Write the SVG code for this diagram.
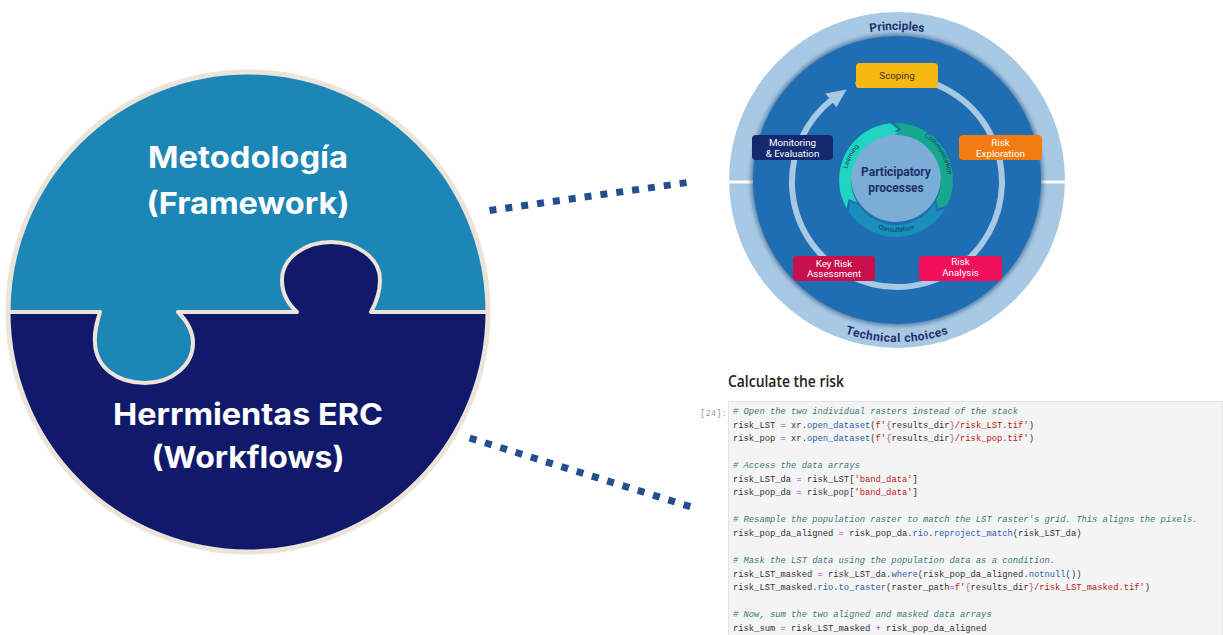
<svg xmlns="http://www.w3.org/2000/svg" width="1223" height="635" viewBox="0 0 1223 635">
  <defs>
    <style>
      .puzzle-title { font-family: Inter, "Open Sans", "Liberation Sans", sans-serif; font-weight: 700; font-size: 30px; fill: #ffffff; text-anchor: middle; }
      .dots { fill: none; stroke: #244f8e; stroke-width: 7; stroke-dasharray: 7 9; }
      .ring-label { font-family: Roboto, "Liberation Sans", sans-serif; font-weight: 700; font-size: 12px; fill: #22306f; }
      .step { font-family: Roboto, "Liberation Sans", sans-serif; font-size: 9.8px; fill: #ffffff; text-anchor: middle; }
      .arc-label { font-family: Roboto, "Liberation Sans", sans-serif; font-size: 6.5px; fill: #0f3a5c; }
      .core { font-family: Roboto, "Liberation Sans", sans-serif; font-weight: 700; font-size: 12px; fill: #1f2f6e; text-anchor: middle; }
      .code { font-family: "Liberation Mono", "DejaVu Sans Mono", monospace; font-size: 8.8px; fill: #333333; }
      .c { fill: #3d7b7b; font-style: italic; }
      .o { fill: #aa22ff; }
      .m { fill: #2a5db0; }
      .s { fill: #ba2121; }
      .b { fill: #a45a77; }
    </style>
    <filter id="soft" x="-10%" y="-10%" width="120%" height="120%">
      <feGaussianBlur stdDeviation="2"/>
    </filter>
    <!-- text guides, all centred on the wheel at (897,180) / core at (896,180) -->
    <path id="arc-principles-top" d="M 767 105 A 150 150 0 0 1 1027 105"/>
    <path id="arc-technical" d="M 782.4 294.6 A 162 162 0 0 0 1011.6 294.6"/>
    <path id="arc-learning" d="M 849.1 197.1 A 50 50 0 0 1 883.1 131.7"/>
    <path id="arc-communication" d="M 912 130.5 A 52 52 0 0 1 947.4 188.1"/>
    <path id="arc-consultation" d="M 860.5 218.3 A 53 53 0 0 0 931.5 218.3"/>
  </defs>

  <rect x="0" y="0" width="1223" height="635" fill="#ffffff"/>

  <!-- Puzzle circle: framework (top) and workflows (bottom) -->
  <g id="puzzle">
    <circle cx="248" cy="312" r="240" fill="#1c87b7"/>
    <path d="M 8 312 L 100 312 C 97 322 94 332 95 343 C 96 368 118 383 145 383 C 172 383 193 365 193 343 C 193 330 186 320 178 312 L 297 312 C 287 303 282 292 282 280 C 282 258 305 242 331 242 C 357 242 380 258 380 280 C 380 292 376 303 371 312 L 488 312 A 240 240 0 0 1 8 312 Z" fill="#111a6a"/>
    <path d="M 8 312 L 100 312 C 97 322 94 332 95 343 C 96 368 118 383 145 383 C 172 383 193 365 193 343 C 193 330 186 320 178 312 L 297 312 C 287 303 282 292 282 280 C 282 258 305 242 331 242 C 357 242 380 258 380 280 C 380 292 376 303 371 312 L 488 312" fill="none" stroke="#ede3d8" stroke-width="4" stroke-linejoin="round"/>
    <circle cx="248" cy="312" r="240" fill="none" stroke="#ede3d8" stroke-width="5"/>
  </g>

  <g id="node-metodologia">
    <text class="puzzle-title" x="248" y="168" textLength="200" lengthAdjust="spacingAndGlyphs">Metodología</text>
    <text class="puzzle-title" x="248" y="214" textLength="203" lengthAdjust="spacingAndGlyphs">(Framework)</text>
  </g>

  <g id="node-herramientas">
    <text class="puzzle-title" x="248" y="425" textLength="270" lengthAdjust="spacingAndGlyphs">Herrmientas ERC</text>
    <text class="puzzle-title" x="248" y="468" textLength="193" lengthAdjust="spacingAndGlyphs">(Workflows)</text>
  </g>

  <!-- Dotted links -->
  <g id="connectors">
    <path class="dots" d="M 489.5 210.5 L 687.5 182.5"/>
    <path class="dots" d="M 469.7 438 L 691.3 507"/>
  </g>

  <!-- Framework wheel -->
  <g id="node-framework-wheel">
    <circle cx="897" cy="180" r="168" fill="#a8c9e3"/>
    <rect x="726" y="180.5" width="28" height="3" fill="#ffffff"/>
    <rect x="1040" y="180.5" width="28" height="3" fill="#ffffff"/>
    <circle cx="897" cy="180" r="146" fill="#0e3a73" opacity="0.55" filter="url(#soft)"/>
    <circle cx="897" cy="180" r="144" fill="#1f6db2"/>

    <text class="ring-label" text-anchor="middle"><textPath href="#arc-principles-top" startOffset="50%">Principles</textPath></text>
    <text class="ring-label" text-anchor="middle" letter-spacing="0.5"><textPath href="#arc-technical" startOffset="50%">Technical  choices</textPath></text>

    <!-- cycle track with arrow -->
    <path d="M 855.98 85.35 A 105 105 0 1 1 832.35 99.26" fill="none" stroke="#a8c9e3" stroke-width="6"/>
    <polygon points="825.4,93.6 846.6,89.6 836.4,107.2" fill="#a8c9e3"/>

    <!-- participatory core -->
    <circle cx="896" cy="177" r="45" fill="#7aaed6"/>
    <path d="M 846.64 208.5 A 57 57 0 0 1 890.04 123.31 L 897.78 129.03 L 891.3 135.25 A 45 45 0 0 0 857.03 202.5 L 848.71 199.1 Z" fill="#20d5c0"/>
    <path d="M 894.01 123.03 A 57 57 0 0 1 947.23 204.99 L 938.28 208.52 L 936.45 199.73 A 45 45 0 0 0 894.43 135.03 L 901.33 129.28 Z" fill="#16a88e"/>
    <path d="M 945.36 208.5 A 57 57 0 0 1 848.75 211.87 L 850.16 202.36 L 858.69 205.16 A 45 45 0 0 0 934.97 202.5 L 936.19 211.4 Z" fill="#1a8fbb"/>
    <text class="arc-label" text-anchor="middle"><textPath href="#arc-learning" startOffset="50%">Learning</textPath></text>
    <text class="arc-label" text-anchor="middle"><textPath href="#arc-communication" startOffset="50%">Communication</textPath></text>
    <text class="arc-label" text-anchor="middle"><textPath href="#arc-consultation" startOffset="50%">Consultation</textPath></text>
    <text class="core" x="896" y="176">Participatory</text>
    <text class="core" x="896" y="192">processes</text>

    <!-- steps -->
    <rect x="856" y="63" width="82" height="25" rx="4" fill="#f6b912"/>
    <text class="step" x="897" y="79" style="fill:#3b3322">Scoping</text>

    <rect x="752" y="135" width="81" height="25" rx="4" fill="#14286e"/>
    <text class="step" x="792.5" y="146">Monitoring</text>
    <text class="step" x="792.5" y="156.5">&amp; Evaluation</text>

    <rect x="959" y="135" width="83" height="25" rx="4" fill="#f27c10"/>
    <text class="step" x="1000.5" y="145.5">Risk</text>
    <text class="step" x="1000.5" y="156.5">Exploration</text>

    <rect x="793" y="256" width="82" height="25" rx="4" fill="#c8104a"/>
    <text class="step" x="834" y="266.5">Key Risk</text>
    <text class="step" x="834" y="277">Assessment</text>

    <rect x="919" y="256" width="83" height="25" rx="4" fill="#f0105a"/>
    <text class="step" x="960.5" y="264.5">Risk</text>
    <text class="step" x="960.5" y="275.5">Analysis</text>
  </g>

  <!-- Notebook cell -->
  <g id="node-notebook">
    <text x="728" y="387" font-family="'Open Sans', 'Liberation Sans', sans-serif" font-weight="600" font-size="16" fill="#222222" textLength="116" lengthAdjust="spacingAndGlyphs">Calculate the risk</text>
    <text x="700" y="416" font-family="'Liberation Mono', monospace" font-size="9" fill="#9e9e9e">[24]:</text>
    <rect x="728.5" y="401.5" width="494" height="240" fill="#f4f4f4" stroke="#e3e3e3" stroke-width="1"/>
    <text class="code" x="733" y="414"><tspan class="c"># Open the two individual rasters instead of the stack</tspan></text>
    <text class="code" x="733" y="427.6">risk_LST <tspan class="o">=</tspan> xr.<tspan class="m">open_dataset</tspan>(<tspan class="s">f'</tspan><tspan class="b">{</tspan>results_dir<tspan class="b">}</tspan><tspan class="s">/risk_LST.tif'</tspan>)</text>
    <text class="code" x="733" y="441.1">risk_pop <tspan class="o">=</tspan> xr.<tspan class="m">open_dataset</tspan>(<tspan class="s">f'</tspan><tspan class="b">{</tspan>results_dir<tspan class="b">}</tspan><tspan class="s">/risk_pop.tif'</tspan>)</text>
    <text class="code" x="733" y="468.2"><tspan class="c"># Access the data arrays</tspan></text>
    <text class="code" x="733" y="481.8">risk_LST_da <tspan class="o">=</tspan> risk_LST[<tspan class="s">'band_data'</tspan>]</text>
    <text class="code" x="733" y="495.3">risk_pop_da <tspan class="o">=</tspan> risk_pop[<tspan class="s">'band_data'</tspan>]</text>
    <text class="code" x="733" y="522.4"><tspan class="c"># Resample the population raster to match the LST raster's grid. This aligns the pixels.</tspan></text>
    <text class="code" x="733" y="536">risk_pop_da_aligned <tspan class="o">=</tspan> risk_pop_da.<tspan class="m">rio</tspan>.<tspan class="m">reproject_match</tspan>(risk_LST_da)</text>
    <text class="code" x="733" y="563.1"><tspan class="c"># Mask the LST data using the population data as a condition.</tspan></text>
    <text class="code" x="733" y="576.6">risk_LST_masked <tspan class="o">=</tspan> risk_LST_da.<tspan class="m">where</tspan>(risk_pop_da_aligned.<tspan class="m">notnull</tspan>())</text>
    <text class="code" x="733" y="590.2">risk_LST_masked.<tspan class="m">rio</tspan>.<tspan class="m">to_raster</tspan>(raster_path<tspan class="o">=</tspan><tspan class="s">f'</tspan><tspan class="b">{</tspan>results_dir<tspan class="b">}</tspan><tspan class="s">/risk_LST_masked.tif'</tspan>)</text>
    <text class="code" x="733" y="617.3"><tspan class="c"># Now, sum the two aligned and masked data arrays</tspan></text>
    <text class="code" x="733" y="630.8">risk_sum <tspan class="o">=</tspan> risk_LST_masked <tspan class="o">+</tspan> risk_pop_da_aligned</text>
  </g>
</svg>
